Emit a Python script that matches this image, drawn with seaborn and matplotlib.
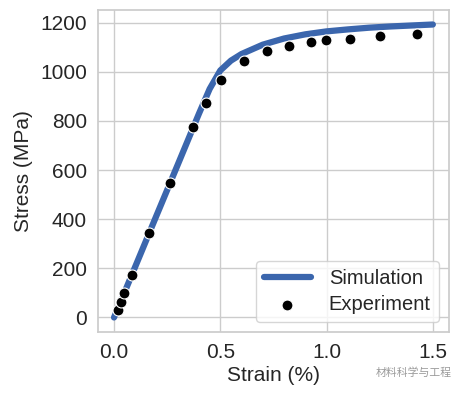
import numpy as np
import pandas as pd
import matplotlib
matplotlib.use("Agg")
import matplotlib.pyplot as plt
import seaborn as sns

# Simulation curve (strain %, stress MPa)
sim_strain = [0, 0.1, 0.2, 0.3, 0.4, 0.45, 0.5, 0.55, 0.6, 0.7, 0.8, 0.9, 1.0, 1.1, 1.2, 1.3, 1.4, 1.5]
sim_stress = [0, 207, 415, 622, 830, 930, 1005, 1045, 1072, 1110, 1135, 1152, 1164, 1172, 1179, 1184, 1188, 1192]

# Experimental points
exp_strain = [0.017, 0.031, 0.048, 0.083, 0.164, 0.264, 0.372, 0.435, 0.504, 0.610, 0.720, 0.822, 0.926, 0.997, 1.111, 1.252, 1.424]
exp_stress = [30, 64, 101, 173, 342, 548, 774, 872, 966, 1044, 1084, 1105, 1121, 1127, 1135, 1144, 1153]

sim = pd.DataFrame({"strain": sim_strain, "stress": sim_stress})
exp = pd.DataFrame({"strain": exp_strain, "stress": exp_stress})

sns.set_theme(style="whitegrid")
plt.rcParams['font.family'] = ['Liberation Sans', 'DejaVu Sans']

fig = plt.figure(figsize=(4.67, 3.94), dpi=100)
ax = fig.add_axes([0.21, 0.157, 0.751, 0.818])

sns.lineplot(data=sim, x="strain", y="stress", ax=ax, color="#3b66ad",
             linewidth=4.5, label="Simulation", solid_capstyle="round")
sns.scatterplot(data=exp, x="strain", y="stress", ax=ax, color="black",
                s=62, edgecolor="white", linewidth=0.8, label="Experiment", zorder=3)

ax.set_xticks([0.0, 0.5, 1.0, 1.5])
ax.set_yticks([0, 200, 400, 600, 800, 1000, 1200])
ax.tick_params(labelsize=15, pad=2)
ax.set_xlabel("Strain (%)", fontsize=15, labelpad=3)
ax.set_ylabel("Stress (MPa)", fontsize=15, labelpad=5)

leg = ax.legend(loc="lower right", fontsize=14.5, frameon=True, handlelength=2.3,
                borderaxespad=0.5, handletextpad=0.9, labelspacing=0.35)
leg.get_frame().set_edgecolor("#cccccc")

# watermark
fig.text(0.968, 0.053, "材料科学与工程", ha="right", va="center", fontsize=7.8,
         color="#9a9a9a", family=["Noto Sans CJK SC", "DejaVu Sans"])

fig.savefig("out.png", dpi=100)
